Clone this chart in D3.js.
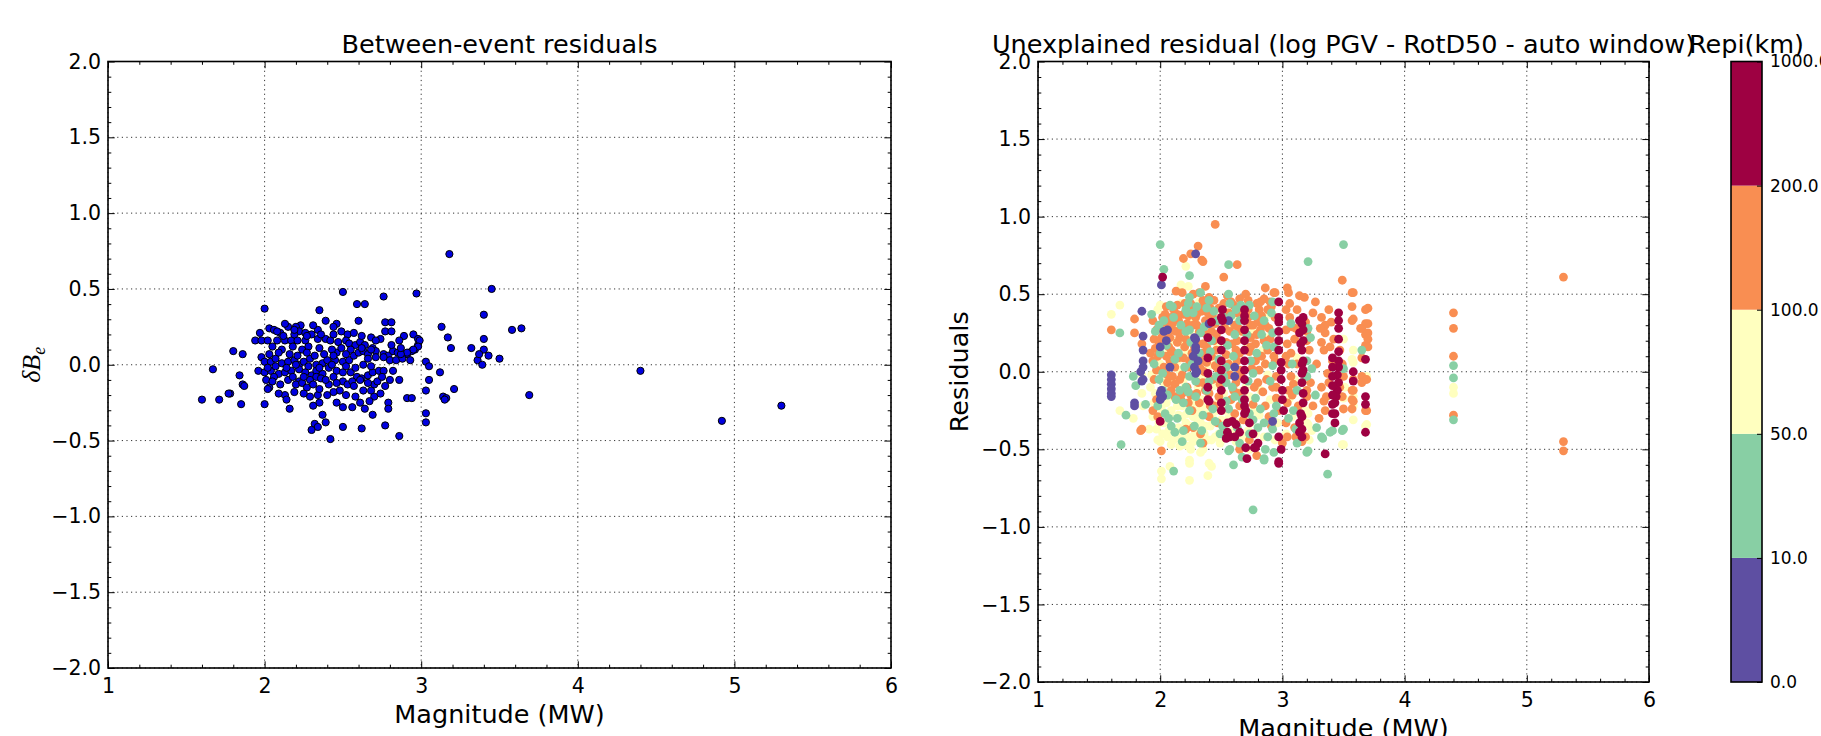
<!DOCTYPE html>
<html>
<head>
<meta charset="utf-8">
<script src="https://cdn.jsdelivr.net/npm/d3@7"></script>
<style>
  body { margin: 0; background: #fff; }
  svg { display: block; font-family: "DejaVu Sans", sans-serif; }
</style>
</head>
<body>
<svg width="1821" height="736"></svg>
<script>
// tick values and labels
const magTicks = [1, 2, 3, 4, 5, 6];
const residTicks = [-2, -1.5, -1, -0.5, 0, 0.5, 1, 1.5, 2];
const repiLabels = ["0.0", "10.0", "50.0", "100.0", "200.0", "1000.0"];
const repiColors = ["#5e4fa2", "#88cfa4", "#ffffbf", "#f98e52", "#9e0142"];

// between-event residuals [magnitude, dBe]
const betweenEvent = [
[2.50,0.48],[2.76,0.45],[2.97,0.47],[2.59,0.40],[2.64,0.40],[2.00,0.37],[2.35,0.36],
[2.39,0.29],[2.60,0.29],[2.77,0.28],[2.81,0.28],[2.46,0.27],[2.44,0.25],[2.23,0.26],[2.20,0.25],[2.15,0.25],[2.03,0.24],[2.06,0.23],[1.97,0.21],[2.10,0.21],[2.22,0.22],[2.26,0.21],[2.34,0.23],[2.77,0.22],[2.81,0.22],[2.53,0.20],[2.57,0.21],[2.89,0.19],[2.95,0.20],[2.68,0.18],[2.74,0.17],[2.86,0.16],[2.98,0.17],
[1.94,0.16],[1.98,0.16],[2.02,0.16],[2.08,0.16],[2.13,0.16],[2.17,0.16],[2.21,0.16],[2.26,0.16],[2.30,0.20],[2.34,0.17],[2.39,0.17],[2.42,0.16],[2.47,0.15],[2.52,0.16],[2.54,0.14],[2.58,0.13],[2.61,0.15],[2.64,0.13],[2.69,0.11],[2.71,0.09],[2.76,0.07],[2.79,0.06],[2.82,0.09],[2.85,0.08],[2.88,0.07],[2.91,0.07],[2.94,0.09],[2.96,0.10],[2.98,0.13],
[1.80,0.09],[1.86,0.07],[1.98,0.05],[2.00,0.02],[2.04,0.02],[2.07,0.04],[2.11,0.01],[2.15,0.02],[2.19,0.03],[2.22,0.00],[2.25,0.02],[2.29,0.04],[2.33,0.00],[2.37,0.01],[2.40,0.03],[2.45,0.03],[2.46,0.08],[2.50,0.02],[2.54,0.03],[2.57,0.06],[2.60,0.08],[2.63,0.09],[2.66,0.07],[2.68,0.10],[2.71,0.05],[2.76,0.05],[2.80,0.03],[2.84,0.03],[2.88,0.04],[2.93,0.03],[3.03,0.02],[3.05,-0.01],
[1.96,-0.04],[2.00,-0.05],[2.04,-0.04],[2.09,-0.06],[2.13,-0.05],[2.17,-0.04],[2.22,-0.03],[2.26,-0.05],[2.30,-0.07],[2.33,-0.04],[2.37,-0.06],[2.41,-0.02],[2.46,-0.04],[2.50,-0.05],[2.55,-0.05],[2.59,-0.08],[2.62,-0.09],[2.66,-0.07],[2.69,-0.05],[2.73,-0.04],[2.76,-0.04],[2.80,-0.10],[2.82,-0.04],[1.84,-0.07],[2.01,-0.10],[2.06,-0.08],[2.15,-0.10],[2.22,-0.11],[2.29,-0.10],[2.33,-0.08],[2.36,-0.09],
[1.86,-0.13],[2.03,-0.15],[2.02,-0.16],[2.13,-0.20],[2.14,-0.23],[2.20,-0.13],[2.24,-0.12],[2.29,-0.21],[2.34,-0.20],[2.35,-0.16],[2.41,-0.13],[2.48,-0.17],[2.50,-0.11],[2.53,-0.13],[2.56,-0.11],[2.61,-0.10],[2.63,-0.17],[2.70,-0.13],[2.72,-0.11],[2.86,-0.10],[1.78,-0.19],[2.91,-0.22],[2.94,-0.22],[3.03,-0.17],[3.05,-0.10],
[1.85,-0.26],[2.00,-0.26],[2.16,-0.29],[2.35,-0.25],[2.46,-0.25],[2.50,-0.28],[2.56,-0.28],[2.61,-0.25],[2.64,-0.29],[2.70,-0.21],[2.79,-0.25],[2.79,-0.29],[2.37,-0.33],[2.39,-0.38],[2.32,-0.39],[2.30,-0.43],[2.34,-0.41],[2.50,-0.41],[2.62,-0.42],[2.69,-0.33],[2.77,-0.40],[2.86,-0.47],[3.03,-0.32],[3.03,-0.38],[2.42,-0.49],
[3.18,0.73],[3.45,0.50],[3.40,0.33],[3.13,0.25],[3.58,0.23],[3.64,0.24],[3.17,0.18],[3.19,0.11],[3.40,0.17],[3.32,0.11],[3.40,0.10],[3.36,0.03],[3.43,0.06],[3.50,0.04],[3.39,0.00],[3.37,0.07],[3.12,-0.05],[3.21,-0.16],[3.14,-0.21],[3.16,-0.22],[3.15,-0.23],[3.69,-0.20],
[1.60,-0.23],[1.67,-0.03],[1.71,-0.23],[1.77,-0.19],[1.87,-0.14],[4.40,-0.04],[4.92,-0.37],[5.30,-0.27],[2.99,0.16],[2.98,0.12],[2.95,0.10],[2.91,0.08],[2.87,0.07],
[2.05,0.12],[2.11,0.10],[2.18,0.12],[2.24,0.10],[2.28,0.12],[2.35,0.11],[2.43,0.10],[2.49,0.11],[2.55,0.10],[2.62,0.11],[2.66,0.04],
[2.03,0.07],[2.09,0.08],[2.16,0.07],[2.21,0.06],[2.27,0.08],[2.32,0.06],[2.38,0.07],[2.44,0.06],[2.52,0.07],
[2.02,-0.02],[2.07,-0.01],[2.14,-0.02],[2.20,0.00],[2.28,-0.01],[2.35,-0.02],[2.43,0.00],[2.52,-0.01],[2.58,-0.02],[2.63,0.00],[2.68,-0.01],
[2.05,-0.11],[2.10,-0.13],[2.18,-0.08],[2.25,-0.08],[2.27,-0.15],[2.31,-0.13],[2.39,-0.10],[2.44,-0.08],[2.46,-0.12],[2.57,-0.14],[2.66,-0.12],[2.68,-0.17],[2.75,-0.08],[2.77,-0.14],
[2.09,-0.19],[2.19,-0.18],[2.25,-0.19],[2.31,-0.27],[2.40,-0.20],[2.44,-0.18],[2.52,-0.20],[2.58,-0.21],[2.67,-0.24],[2.74,-0.19],
[2.12,0.19],[2.19,0.20],[2.27,0.19],[2.36,0.20],[2.44,0.20],[2.49,0.22],[2.62,0.19],[2.71,0.16],[2.81,0.13],[2.87,0.11],
[2.13,0.27],[2.08,0.22],[2.31,0.26],[2.19,0.23]
];

// unexplained residuals [magnitude, residual], one list per Repi class
const repi0to10 = [
[1.60,-0.02],[1.60,-0.05],[1.60,-0.08],[1.60,-0.11],[1.60,-0.14],[1.60,-0.16],
[1.79,-0.20],[1.79,-0.22],[1.84,0.00],[1.85,-0.06],[1.85,0.39],[1.86,0.23],[1.86,0.14],[1.86,0.07],[1.86,0.03],[1.86,-0.05],
[2.01,0.56],[2.01,-0.12],[2.02,-0.16],[2.00,-0.14],[2.00,-0.18],[2.03,0.26],[2.05,0.20],[2.00,0.16],[2.06,0.27],[2.08,0.03],
[2.28,0.22],[2.29,0.14],[2.27,0.10],[2.28,0.03],[2.29,-0.01],[2.31,0.07],[2.29,0.76],[2.56,0.33],
[2.29,0.21],[2.29,0.16],[2.40,0.31],[2.61,0.03],[2.61,-0.03],[2.30,0.00],[2.92,-0.32]
];
const repi10to50 = [
[2.00,0.82],[3.50,0.82],[3.21,0.71],[2.56,0.69],[2.03,0.66],[2.24,0.62],[2.24,0.48],[2.23,0.44],[2.33,0.51],[2.56,0.50],[2.92,0.45],[2.57,0.44],[2.73,0.43],
[1.67,0.25],[1.68,-0.47],[1.72,-0.28],[1.78,-0.03],[1.80,-0.09],[1.93,0.37],[1.88,-0.21],
[2.10,0.42],[2.21,0.40],[2.40,0.46],[2.44,0.39],[2.51,0.36],[2.65,0.33],[2.77,0.36],[2.85,0.33],
[2.00,0.12],[2.24,0.27],[2.25,0.19],[2.33,0.25],[2.55,0.17],[2.61,0.24],[2.92,0.25],[2.93,0.16],
[2.02,-0.01],[2.20,0.03],[2.24,-0.03],[2.21,-0.10],[2.46,-0.03],[2.54,0.03],[2.54,-0.07],[2.74,0.07],[2.76,-0.01],[2.92,0.04],[3.20,0.07],[3.19,-0.03],
[1.98,-0.22],[2.04,-0.27],[2.09,-0.35],[2.12,-0.39],[2.16,-0.12],[2.24,-0.25],[2.29,-0.16],[2.18,-0.45],[2.33,-0.46],[2.38,-0.12],[2.54,-0.19],[2.61,-0.16],[2.51,-0.35],[2.73,-0.27],[2.76,-0.31],[2.85,-0.33],[2.80,-0.36],[2.65,-0.46],[2.57,-0.50],[2.86,-0.50],[2.93,-0.52],[2.85,-0.56],[2.93,-0.27],[2.92,-0.37],[3.11,-0.37],[3.12,-0.46],[3.20,-0.52],
[2.11,-0.64],[2.60,-0.60],[2.85,-0.57],[2.56,-0.51],[2.67,-0.55],[2.76,-0.89],
[3.21,0.28],[3.20,-0.03],[3.50,0.02],[3.39,-0.39],[3.50,-0.37],[3.32,-0.42],[3.21,-0.51],[3.37,-0.66],[3.41,-0.38],[3.33,-0.43],[3.65,0.14],[3.49,-0.38],
[4.40,0.04],[4.40,-0.04],[4.40,-0.31],
[1.96,0.26],[1.99,-0.05],[2.03,0.33],[2.06,-0.15],[2.08,0.43],[2.12,0.08],[2.14,-0.30],[2.17,0.30],[2.19,-0.20],[2.22,0.38],[2.26,0.05],[2.28,-0.35],[2.30,0.42],[2.35,-0.28],[2.36,0.29],[2.41,0.13],[2.43,-0.24],[2.47,0.33],[2.49,-0.40],[2.58,0.36],[2.59,-0.10],[2.63,-0.36],[2.66,0.43],[2.71,0.24],[2.72,-0.06],[2.78,-0.17],[2.83,0.24],[2.88,-0.42],[2.91,0.38],[2.95,-0.22],[3.07,0.31],[3.09,-0.25],[3.23,0.22],[3.27,-0.15],
[1.95,0.05],[1.99,0.30],[2.02,-0.12],[2.05,0.17],[2.07,-0.30],[2.11,0.35],[2.13,-0.18],[2.15,0.12],[2.19,-0.38],[2.21,0.26],[2.23,-0.13],[2.27,0.38],[2.29,-0.06],[2.32,0.12],[2.34,-0.38],[2.38,0.41],[2.40,-0.06],[2.42,0.20],[2.45,-0.32],[2.48,0.08],[2.52,-0.03],[2.56,-0.24],[2.60,0.10],[2.62,0.40],[2.67,-0.18],[2.73,-0.40],[2.79,0.12],[2.82,-0.24],[2.87,0.17],[2.90,-0.06],[3.05,-0.30],[3.08,0.05],[3.12,-0.12],[3.24,0.02],[3.28,-0.36]
];
const repi50to100 = [
[1.60,0.37],[1.67,0.43],[1.67,-0.25],[1.78,-0.30],[1.98,0.40],[2.00,0.43],[1.85,-0.02],[1.85,-0.14],[1.86,-0.22],
[2.21,0.68],[2.17,0.56],[2.23,0.55],[2.80,0.44],[2.63,0.35],[2.59,0.37],[2.89,0.37],[2.39,0.27],[2.47,0.16],[2.71,0.16],
[2.00,0.05],[2.14,0.07],[2.16,0.01],[2.13,-0.07],[2.40,0.04],[2.39,-0.03],[2.58,0.10],[2.59,0.01],[2.86,0.05],[2.88,-0.02],
[1.94,-0.29],[1.91,-0.37],[1.97,-0.37],[2.05,-0.20],[2.08,-0.29],[2.14,-0.22],[2.18,-0.29],[2.21,-0.33],[2.27,-0.29],[2.31,-0.25],[2.33,-0.33],[2.25,-0.50],[2.35,-0.50],[2.24,-0.57],[2.40,-0.59],[2.00,-0.45],[2.01,-0.64],[2.01,-0.69],[2.08,-0.61],[2.24,-0.70],
[2.46,-0.25],[2.52,-0.25],[2.50,-0.31],[2.73,-0.16],[2.76,-0.25],[2.70,-0.29],[2.73,-0.50],[2.69,-0.42],[3.08,-0.29],[3.03,-0.40],[3.19,-0.25],[3.20,-0.33],
[2.19,-0.47],[2.33,-0.52],[2.39,-0.67],[2.42,-0.61],[2.24,-0.59],
[3.58,0.14],[3.58,0.06],[3.50,0.21],[3.51,-0.10],[3.50,-0.17],[3.58,-0.16],[3.58,-0.22],[3.58,-0.31],[3.69,-0.03],[3.69,-0.34],[3.50,-0.47],[3.21,-0.27],[3.21,-0.34],[3.57,0.08],[3.68,-0.35],[3.49,-0.47],
[4.40,-0.10],[4.40,-0.14],
[1.92,-0.10],[1.95,-0.20],[1.99,-0.33],[2.02,-0.40],[2.04,-0.08],[2.06,-0.42],[2.07,0.13],[2.09,-0.47],[2.10,-0.16],[2.12,0.30],[2.13,-0.40],[2.15,-0.36],[2.17,-0.43],[2.18,0.18],[2.19,-0.05],[2.20,-0.38],[2.22,0.12],[2.23,-0.42],[2.26,-0.15],[2.27,-0.45],[2.28,0.33],[2.29,-0.39],[2.31,-0.10],[2.32,0.45],[2.34,-0.18],[2.36,-0.40],[2.37,0.19],[2.38,-0.27],[2.41,-0.35],[2.42,-0.44],[2.44,-0.09],[2.45,0.08],[2.48,-0.40],[2.52,-0.14],[2.55,0.30],[2.56,-0.30],[2.60,-0.38],[2.62,-0.45],[2.64,0.25],[2.66,-0.13],[2.72,-0.38],[2.75,0.27],[2.78,-0.40],[2.82,-0.12],[2.84,0.14],[2.90,-0.18],[2.94,-0.44],[3.06,-0.17],[3.12,0.09],[3.24,-0.38],
[1.93,-0.02],[1.96,-0.14],[1.98,-0.44],[2.01,-0.24],[2.03,-0.33],[2.05,-0.05],[2.07,-0.38],[2.09,-0.25],[2.11,-0.44],[2.12,-0.05],[2.15,-0.28],[2.16,-0.48],[2.18,-0.22],[2.20,-0.10],[2.22,-0.27],[2.23,-0.48],[2.25,-0.35],[2.27,-0.20],[2.28,-0.41],[2.30,-0.30],[2.32,-0.03],[2.33,-0.45],[2.35,-0.22],[2.37,-0.35],[2.39,-0.44],[2.41,-0.05],[2.43,-0.30],[2.45,-0.42],[2.47,-0.20],[2.49,-0.46],[2.53,-0.38],[2.55,-0.20],[2.58,-0.28],[2.60,0.05],[2.63,-0.33],[2.66,-0.42],[2.68,0.35],[2.70,-0.10],[2.74,-0.33],[2.81,-0.28],[2.85,-0.42],[2.88,0.22],[2.96,-0.33],[3.10,-0.05],[3.22,-0.44],[2.10,0.20],[2.17,0.44],[2.26,0.24],[2.44,0.38]
];
const repi100to200 = [
[2.45,0.95],[2.31,0.81],[2.25,0.76],[2.19,0.73],[2.34,0.72],[2.35,0.71],[2.63,0.69],[2.52,0.61],[3.49,0.59],[5.30,0.61],[3.57,0.51],[2.37,0.55],[2.86,0.54],[2.94,0.51],[3.04,0.54],[3.58,0.51],
[4.40,0.38],[4.40,0.28],[4.40,0.10],[4.40,-0.28],[5.30,-0.45],[5.30,-0.51],
[3.68,0.40],[3.68,0.31],[3.68,0.24],[3.68,0.17],[3.68,-0.25],[3.64,0.28],[3.57,0.42],[3.57,0.33],[3.57,-0.12],[3.57,-0.18],[3.57,-0.24],
[1.60,0.27],[1.79,0.34],[1.79,0.25],[1.84,-0.38],[2.01,-0.51],[2.79,-0.54],
[2.13,0.52],[2.18,0.51],[2.27,0.50],[2.32,0.51],[2.40,0.48],[2.44,0.46],[2.55,0.49],[2.65,0.47],[2.70,0.50],[2.93,0.51],[3.05,0.51],[3.14,0.49],[3.18,0.48],[2.85,0.47],[2.81,0.40],[2.88,0.40],[3.03,0.40],[3.08,0.29],
[2.14,0.43],[2.04,0.37],[2.09,0.35],[2.27,0.42],[2.36,0.43],[2.29,0.35],[2.40,0.34],[2.74,0.30],[2.80,0.32],[1.94,0.33],[1.97,0.27],[1.95,0.21],[1.85,0.18],
[2.00,0.30],[2.04,0.25],[2.08,0.22],[2.10,0.27],[2.13,0.26],[2.14,0.19],[2.18,0.29],[2.36,0.25],[2.38,0.16],[2.44,0.20],[2.63,0.20],[2.65,0.12],[2.74,0.22],[2.78,0.18],[2.82,0.27],[2.85,0.20],[2.88,0.14],[3.03,0.27],[3.04,0.18],[3.03,0.10],[3.19,0.32],[3.20,0.26],[3.10,0.21],
[1.94,0.07],[1.97,0.01],[1.95,-0.05],[2.08,0.07],[2.10,-0.03],[2.06,-0.07],[2.33,0.07],[2.36,0.00],[2.35,-0.07],[2.63,0.07],[2.65,0.01],[2.62,-0.07],[2.78,0.07],[2.81,0.01],[2.80,-0.07],[2.93,0.10],[2.95,-0.03],[2.95,-0.10],[3.05,0.05],[3.07,-0.03],[3.05,-0.12],[3.04,-0.20],
[1.97,-0.18],[1.94,-0.25],[1.98,-0.29],[2.12,-0.16],[2.17,-0.18],[2.18,-0.14],[2.23,-0.20],[2.21,-0.37],[2.27,-0.36],[2.33,-0.40],[2.35,-0.46],[2.40,-0.14],[2.44,-0.22],[2.40,-0.29],[2.47,-0.33],[2.58,-0.18],[2.65,-0.22],[2.61,-0.27],[2.73,-0.44],[2.65,-0.50],[2.86,-0.22],[2.89,-0.29],[2.95,-0.17],[2.97,-0.25],[3.03,-0.33],[3.04,-0.42],[3.00,-0.46],[3.11,-0.42],[3.19,-0.42],[3.16,-0.29],[1.85,-0.37],
[3.70,0.41],[3.58,0.34],[3.65,0.28],[3.70,0.31],[3.70,0.25],[3.70,0.21],[3.70,0.16],[3.65,0.09],[3.32,0.35],[3.38,0.40],[3.35,0.25],[3.40,0.32],[3.32,0.19],[3.34,0.14],[3.42,0.21],[3.39,0.16],[3.47,0.14],[3.49,0.05],[3.47,-0.10],[3.50,-0.03],[3.49,-0.16],[3.58,-0.05],[3.58,-0.12],[3.58,-0.19],[3.50,-0.24],[3.65,-0.03],[3.65,-0.07],[3.69,-0.05],[3.69,-0.25],[3.16,0.27],[3.20,0.20],[3.20,-0.12],[3.20,-0.16],[3.16,-0.45],[3.32,-0.10],[3.34,-0.19],
[3.35,0.30],[3.41,0.07],[3.37,-0.01],[3.38,-0.07],[3.36,-0.16],[3.35,-0.25],
[1.92,0.12],[1.96,0.15],[1.99,0.19],[2.02,0.35],[2.05,0.10],[2.06,0.31],[2.07,0.16],[2.09,-0.12],[2.11,0.12],[2.11,0.40],[2.12,0.03],[2.15,0.33],[2.16,0.22],[2.16,-0.05],[2.19,0.37],[2.19,0.09],[2.20,0.16],[2.22,0.31],[2.22,-0.10],[2.23,0.03],[2.25,0.44],[2.26,0.12],[2.26,-0.25],[2.30,0.30],[2.31,0.18],[2.31,-0.07],[2.32,-0.20],[2.34,0.39],[2.34,0.12],[2.37,0.33],[2.38,0.06],[2.41,0.41],[2.42,0.26],[2.42,0.10],[2.43,-0.05],[2.45,0.31],[2.46,0.14],[2.47,0.02],[2.48,-0.16],[2.52,0.44],[2.53,0.28],[2.54,0.11],[2.56,0.38],[2.57,0.26],[2.57,-0.02],[2.60,0.43],[2.61,0.30],[2.62,0.14],[2.64,-0.14],[2.67,0.39],[2.67,0.26],[2.68,-0.31],[2.72,0.46],[2.72,0.35],[2.73,0.13],[2.75,0.02],[2.76,-0.21],[2.79,0.44],[2.79,0.24],[2.83,0.36],[2.83,0.10],[2.84,-0.13],[2.86,0.30],[2.87,-0.05],[2.90,0.45],[2.90,0.21],[2.91,-0.35],[2.94,0.35],[2.94,0.07],[3.06,0.35],[3.07,0.12],[3.09,-0.08],[3.10,-0.36],[3.12,0.40],[3.12,0.05],[3.22,0.14],[3.23,-0.07],[3.25,0.38],[3.25,-0.22],[3.27,0.45],[3.28,0.05],[3.30,-0.30],[3.31,0.28],
[1.98,0.10],[2.01,0.22],[2.03,0.03],[2.05,0.42],[2.06,-0.02],[2.09,0.14],[2.10,0.31],[2.12,-0.08],[2.14,0.37],[2.15,0.09],[2.17,0.27],[2.18,-0.02],[2.20,0.44],[2.21,0.21],[2.23,0.36],[2.24,0.07],[2.25,-0.15],[2.27,0.30],[2.28,0.16],[2.30,0.37],[2.30,-0.14],[2.32,0.26],[2.33,0.02],[2.35,0.46],[2.35,0.18],[2.37,-0.12],[2.39,0.38],[2.40,0.12],[2.41,-0.22],[2.43,0.35],[2.45,0.04],[2.46,0.24],[2.48,0.41],[2.49,-0.08],[2.53,0.36],[2.54,0.19],[2.56,0.05],[2.58,0.45],[2.59,0.18],[2.60,-0.12],[2.63,0.38],[2.64,0.28],[2.66,-0.03],[2.72,0.40],[2.74,0.16],[2.76,0.30],[2.77,-0.10],[2.82,0.45],[2.84,0.32],[2.86,0.05],[2.89,0.28],[2.91,0.42],[2.92,-0.10],[3.06,0.44],[3.08,-0.15],[3.11,0.28],[3.13,-0.22]
];
const repi200to1000 = [
[2.02,0.61],[2.97,0.45],[2.97,0.35],[2.97,0.32],[3.14,0.33],[3.16,0.31],[2.51,0.40],[2.51,0.33],[2.69,0.40],[2.69,0.36],[2.69,0.33],[2.69,0.27],[2.42,0.32],
[2.50,0.35],[2.50,0.27],[2.50,0.20],[2.50,0.14],[2.69,0.20],[2.69,0.14],[2.97,0.26],[2.97,0.20],[2.97,0.14],[2.99,0.06],[3.14,0.25],[3.15,0.18],[3.16,0.14],[3.16,0.05],
[2.50,0.07],[2.50,0.01],[2.50,-0.05],[2.50,-0.12],[2.50,-0.20],[2.50,-0.25],[2.69,0.07],[2.69,0.01],[2.69,-0.05],[2.69,-0.12],[2.69,-0.18],[2.69,-0.22],[2.69,-0.27],[2.99,0.01],[2.99,-0.05],[3.00,-0.12],[3.00,-0.18],[3.01,-0.25],[3.16,-0.01],[3.16,-0.07],[3.17,-0.14],[3.17,-0.20],[3.15,-0.27],
[2.39,0.22],[2.39,0.09],[2.39,-0.01],[2.39,-0.10],[2.39,-0.18],
[2.00,-0.32],[2.40,-0.19],[2.55,-0.33],[2.55,-0.39],[2.57,-0.42],[2.62,-0.34],[2.65,-0.39],[2.59,-0.32],[2.54,-0.43],[2.61,-0.42],[2.70,-0.25],[2.73,-0.33],[2.76,-0.40],[2.77,-0.49],[2.80,-0.46],[2.97,-0.42],[2.99,-0.50],[2.97,-0.58],[3.14,-0.33],[3.14,-0.39],
[2.70,-0.49],[2.78,-0.49],[2.71,-0.56],[2.97,-0.59],[3.35,-0.53],
[3.68,0.08],[3.68,-0.16],[3.68,-0.21],[3.68,-0.39],[3.58,0.00],[3.58,-0.06],
[3.46,0.38],[3.46,0.33],[3.46,0.28],[3.46,0.21],[3.46,0.13],[3.46,0.07],[3.46,0.03],[3.45,-0.02],[3.46,-0.07],[3.45,-0.12],[3.44,-0.16],[3.43,-0.20],[3.43,-0.27],[3.43,-0.33],
[3.41,0.09],[3.41,0.03],[3.41,-0.03],[3.41,-0.09],[3.41,-0.15],[3.41,-0.21],[3.41,-0.27],
[3.17,0.35],[3.17,0.27],[3.17,0.20],[3.17,0.07],[3.17,0.01],[3.16,-0.29],[3.16,-0.37],[3.16,-0.42]
];

const svg = d3.select("svg");
const font = "DejaVu Sans";

// areas of the panels
const leftArea  = { x0: 108,  x1: 891,  y0: 61.5, y1: 668 };
const rightArea = { x0: 1038, x1: 1649, y0: 61.5, y1: 682 };
const cbArea    = { x0: 1731, x1: 1762, y0: 61.5, y1: 682 };

function makeScales(area) {
    const scX = d3.scaleLinear().domain([1, 6]).range([area.x0, area.x1]);
    const scY = d3.scaleLinear().domain([-2, 2]).range([area.y1, area.y0]);
    return [scX, scY];
}

function drawGrid(svg, area, scX, scY) {
    const g = svg.append("g")
        .attr("stroke", "#000")
        .attr("stroke-width", 0.8)
        .attr("stroke-dasharray", "1.2,3.4");
    g.selectAll(".vgrid").data(magTicks).enter().append("line")
        .attr("x1", d => scX(d)).attr("x2", d => scX(d))
        .attr("y1", area.y0).attr("y2", area.y1);
    g.selectAll(".hgrid").data(residTicks).enter().append("line")
        .attr("x1", area.x0).attr("x2", area.x1)
        .attr("y1", d => scY(d)).attr("y2", d => scY(d));
}

function styleAxis(g, fontSize) {
    g.select(".domain").remove();
    g.attr("font-family", font).attr("font-size", fontSize);
    g.selectAll(".tick line").attr("stroke", "#000").attr("stroke-width", 1);
    g.selectAll(".tick text").attr("fill", "#000");
}

function drawAxes(svg, area, scX, scY) {
    const major = 6.7, minor = 3.3;
    const minorX = d3.range(1, 6.001, 0.2).filter(v => Math.abs(v - Math.round(v)) > 0.01);
    const minorY = d3.range(-2, 2.001, 0.1).filter(v => Math.abs(v * 2 - Math.round(v * 2)) > 0.01);
    const fmtY = d3.format(".1f");

    // bottom / left with labels
    svg.append("g").attr("transform", `translate(0,${area.y1})`)
        .call(d3.axisBottom(scX).tickValues(magTicks).tickFormat(d => d)
              .tickSize(-major).tickPadding(10))
        .call(g => styleAxis(g, 20.5));
    svg.append("g").attr("transform", `translate(${area.x0},0)`)
        .call(d3.axisLeft(scY).tickValues(residTicks).tickFormat(fmtY)
              .tickSize(-major).tickPadding(7))
        .call(g => styleAxis(g, 20.5));
    // mirrored ticks on top / right
    svg.append("g").attr("transform", `translate(0,${area.y0})`)
        .call(d3.axisTop(scX).tickValues(magTicks).tickFormat("").tickSize(-major))
        .call(g => styleAxis(g, 20.5));
    svg.append("g").attr("transform", `translate(${area.x1},0)`)
        .call(d3.axisRight(scY).tickValues(residTicks).tickFormat("").tickSize(-major))
        .call(g => styleAxis(g, 20.5));
    // minor ticks
    [[d3.axisBottom, area.y1], [d3.axisTop, area.y0]].forEach(([ax, y]) => {
        svg.append("g").attr("transform", `translate(0,${y})`)
            .call(ax(scX).tickValues(minorX).tickFormat("").tickSize(-minor))
            .call(g => styleAxis(g, 10));
    });
    [[d3.axisLeft, area.x0], [d3.axisRight, area.x1]].forEach(([ax, x]) => {
        svg.append("g").attr("transform", `translate(${x},0)`)
            .call(ax(scY).tickValues(minorY).tickFormat("").tickSize(-minor))
            .call(g => styleAxis(g, 10));
    });
    // frame
    svg.append("rect")
        .attr("x", area.x0).attr("y", area.y0)
        .attr("width", area.x1 - area.x0).attr("height", area.y1 - area.y0)
        .attr("fill", "none").attr("stroke", "#000").attr("stroke-width", 1.6);
}

function addClip(svg, id, area) {
    svg.append("clipPath").attr("id", id).append("rect")
        .attr("x", area.x0).attr("y", area.y0)
        .attr("width", area.x1 - area.x0).attr("height", area.y1 - area.y0);
}

function addText(svg, txt, x, y, size, rotate) {
    const t = svg.append("text")
        .attr("font-family", font).attr("font-size", size)
        .attr("text-anchor", "middle").attr("fill", "#000")
        .text(txt);
    if (rotate)
        t.attr("transform", `translate(${x},${y}) rotate(-90)`);
    else
        t.attr("x", x).attr("y", y);
    return t;
}

// ---------- left panel ----------
const [scXL, scYL] = makeScales(leftArea);
drawGrid(svg, leftArea, scXL, scYL);
addClip(svg, "clipL", leftArea);
svg.append("g").attr("clip-path", "url(#clipL)")
    .selectAll("circle").data(betweenEvent).enter().append("circle")
    .attr("cx", d => scXL(d[0]))
    .attr("cy", d => scYL(d[1]))
    .attr("r", 3.6)
    .attr("fill", "#0000e0")
    .attr("stroke", "#000")
    .attr("stroke-width", 1);
drawAxes(svg, leftArea, scXL, scYL);

addText(svg, "Between-event residuals", (leftArea.x0 + leftArea.x1) / 2, 53, 25.5);
addText(svg, "Magnitude (MW)", (leftArea.x0 + leftArea.x1) / 2, 723, 25.5);
// delta B_e label (math text)
const yl = svg.append("text")
    .attr("transform", `translate(40,${(leftArea.y0 + leftArea.y1) / 2}) rotate(-90)`)
    .attr("font-family", "Liberation Serif, DejaVu Serif, serif")
    .attr("font-style", "italic").attr("font-size", 26)
    .attr("text-anchor", "middle").attr("fill", "#000");
yl.append("tspan").text("δB");
yl.append("tspan").attr("font-size", 18).attr("dy", 5).text("e");

// ---------- right panel ----------
const [scXR, scYR] = makeScales(rightArea);
drawGrid(svg, rightArea, scXR, scYR);
addClip(svg, "clipR", rightArea);
const classes = [
    { data: repi50to100,   color: repiColors[2] },
    { data: repi100to200,  color: repiColors[3] },
    { data: repi10to50,    color: repiColors[1] },
    { data: repi0to10,     color: repiColors[0] },
    { data: repi200to1000, color: repiColors[4] }
];
const gR = svg.append("g").attr("clip-path", "url(#clipR)");
classes.forEach(c => {
    gR.append("g").selectAll("circle").data(c.data).enter().append("circle")
        .attr("cx", d => scXR(d[0]))
        .attr("cy", d => scYR(d[1]))
        .attr("r", 4.4)
        .attr("fill", c.color);
});
drawAxes(svg, rightArea, scXR, scYR);

addText(svg, "Unexplained residual (log PGV - RotD50 - auto window)",
        (rightArea.x0 + rightArea.x1) / 2, 53, 25.5);
addText(svg, "Magnitude (MW)", (rightArea.x0 + rightArea.x1) / 2, 737, 25.5);
addText(svg, "Residuals", 968, (rightArea.y0 + rightArea.y1) / 2, 25.5, true);

// ---------- colorbar ----------
const scCb = d3.scaleLinear().domain([0, repiColors.length]).range([cbArea.y1, cbArea.y0]);
svg.append("g").selectAll("rect").data(repiColors).enter().append("rect")
    .attr("x", cbArea.x0)
    .attr("y", (d, i) => scCb(i + 1))
    .attr("width", cbArea.x1 - cbArea.x0)
    .attr("height", (d, i) => scCb(i) - scCb(i + 1))
    .attr("fill", d => d);
svg.append("g").attr("transform", `translate(${cbArea.x1},0)`)
    .call(d3.axisRight(scCb).tickValues(d3.range(repiLabels.length))
          .tickFormat(i => repiLabels[i]).tickSize(-5).tickPadding(8))
    .call(g => styleAxis(g, 17));
svg.append("rect")
    .attr("x", cbArea.x0).attr("y", cbArea.y0)
    .attr("width", cbArea.x1 - cbArea.x0).attr("height", cbArea.y1 - cbArea.y0)
    .attr("fill", "none").attr("stroke", "#000").attr("stroke-width", 1.6);
addText(svg, "Repi(km)", (cbArea.x0 + cbArea.x1) / 2, 53, 25.5);
</script>
</body>
</html>
